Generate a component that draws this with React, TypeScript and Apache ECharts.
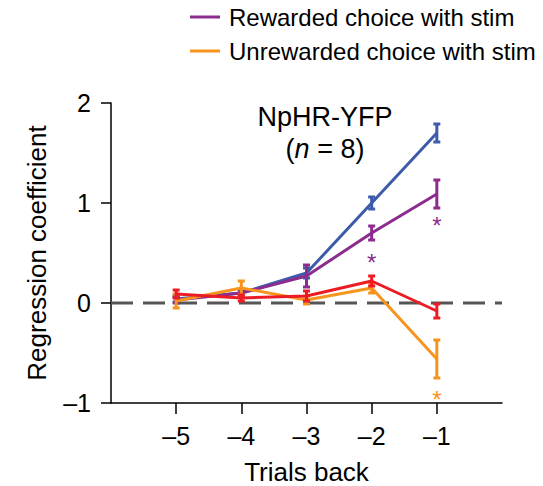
import React, { useEffect, useRef } from "react";
import * as echarts from "echarts";

// Trials back (x) and mean regression coefficients with their s.e.m.
const trialsBack = [-5, -4, -3, -2, -1];

const rewardedNoStim = [0.04, 0.1, 0.3, 1.0, 1.7];
const rewardedNoStimErr = [0.03, 0.03, 0.05, 0.06, 0.09];

const rewardedStim = [0.03, 0.1, 0.27, 0.7, 1.09];
const rewardedStimErr = [0.03, 0.03, 0.11, 0.07, 0.14];

const unrewardedStim = [0.02, 0.15, 0.03, 0.15, -0.56];
const unrewardedStimErr = [0.07, 0.07, 0.04, 0.05, 0.19];

const unrewardedNoStim = [0.09, 0.05, 0.07, 0.22, -0.08];
const unrewardedNoStimErr = [0.04, 0.03, 0.05, 0.05, 0.07];

// Significance markers: [trial, y position]
const rewardedStars = [
  [-2, 0.47],
  [-1, 0.84],
];
const unrewardedStars = [[-1, -0.9]];

const xTicks = [-5, -4, -3, -2, -1];
const yTicks = [-1, 0, 1, 2];

const BLUE = "#3d5ba9";
const PURPLE = "#8b2c8e";
const ORANGE = "#f7941d";
const RED = "#ec1c24";
const FONT = "'Liberation Sans', Arial, Helvetica, sans-serif";

const minus = (v: number) => String(v).replace("-", "\u2013");

function meanData(ys: number[]) {
  return trialsBack.map((x, i) => [x, ys[i]]);
}
function errData(ys: number[], es: number[]) {
  return trialsBack.map((x, i) => [x, ys[i] - es[i], ys[i] + es[i]]);
}

function errorSeries(name: string, color: string, ys: number[], es: number[], z: number) {
  return {
    type: "custom",
    name,
    z,
    silent: true,
    data: errData(ys, es),
    renderItem: (_params: any, api: any) => {
      const x = api.value(0);
      const lo = api.coord([x, api.value(1)]);
      const hi = api.coord([x, api.value(2)]);
      const cap = 3.5;
      const style = { stroke: color, lineWidth: 3 };
      return {
        type: "group",
        children: [
          { type: "line", shape: { x1: lo[0], y1: lo[1], x2: hi[0], y2: hi[1] }, style },
          { type: "line", shape: { x1: lo[0] - cap, y1: lo[1], x2: lo[0] + cap, y2: lo[1] }, style },
          { type: "line", shape: { x1: hi[0] - cap, y1: hi[1], x2: hi[0] + cap, y2: hi[1] }, style },
        ],
      };
    },
  };
}

function lineSeries(name: string, color: string, ys: number[], z: number) {
  return {
    type: "line",
    name,
    z,
    data: meanData(ys),
    symbol: "none",
    lineStyle: { color, width: 3 },
    itemStyle: { color },
  };
}

function starSeries(color: string, pts: number[][]) {
  return {
    type: "custom",
    z: 10,
    silent: true,
    data: pts,
    renderItem: (_params: any, api: any) => {
      const p = api.coord([api.value(0), api.value(1)]);
      return {
        type: "text",
        x: p[0],
        y: p[1] + 6,
        style: {
          text: "*",
          fill: color,
          font: `24px ${FONT}`,
          align: "center",
          verticalAlign: "middle",
        },
      };
    },
  };
}

export default function App() {
  const ref = useRef<HTMLDivElement>(null);

  useEffect(() => {
    if (!ref.current) return;
    const chart = echarts.init(ref.current, null, { renderer: "svg" });
    const base = { color: "#000", fontFamily: FONT, fontWeight: "normal" as const };
    const nameTxt = { ...base, fontSize: 26 };
    const titleTxt = { ...base, fontSize: 27 };
    const tickTxt = { ...base, fontSize: 25 };
    chart.setOption({
      animation: false,
      backgroundColor: "#ffffff",
      textStyle: { fontFamily: FONT },
      title: {
        left: 320,
        top: 96,
        textAlign: "center",
        text: "{a|NpHR-YFP}\n{b|(}{i|n}{b| = 8)}",
        textStyle: {
          fontWeight: "normal",
          rich: {
            a: { ...titleTxt, lineHeight: 32 },
            b: { ...titleTxt, lineHeight: 32 },
            i: { ...titleTxt, fontStyle: "italic", lineHeight: 32 },
          },
        },
      },
      legend: {
        orient: "vertical",
        left: 185,
        top: 0,
        itemWidth: 30,
        itemHeight: 3,
        itemGap: 10,
        icon: "rect",
        data: ["Rewarded choice with stim", "Unrewarded choice with stim"],
        textStyle: { ...base, fontSize: 24, padding: [0, 0, 0, 4] },
      },
      grid: { left: 111, right: 41, top: 103, bottom: 83, outerBoundsMode: "none" },
      xAxis: {
        type: "value",
        min: -6,
        max: 0,
        interval: 1,
        name: "Trials back",
        nameLocation: "middle",
        nameGap: 58,
        nameTextStyle: { ...nameTxt, lineHeight: 22 },
        axisLine: { show: true, onZero: false, lineStyle: { color: "#000", width: 1.5 } },
        axisTick: { show: true, length: 11, customValues: xTicks, lineStyle: { color: "#000", width: 1.5 } },
        axisLabel: {
          ...tickTxt,
          customValues: xTicks,
          margin: 20,
          formatter: (v: number) => minus(v),
        },
        splitLine: { show: false },
      },
      yAxis: {
        type: "value",
        min: -1,
        max: 2,
        interval: 1,
        name: "Regression coefficient",
        nameLocation: "middle",
        nameGap: 61,
        nameTextStyle: nameTxt,
        axisLine: { show: true, onZero: false, lineStyle: { color: "#000", width: 1.5 } },
        axisTick: { show: true, length: 10, customValues: yTicks, lineStyle: { color: "#000", width: 1.5 } },
        axisLabel: {
          ...tickTxt,
          customValues: yTicks,
          margin: 20,
          formatter: (v: number) => minus(v),
        },
        splitLine: { show: false },
      },
      series: [
        {
          type: "line",
          name: "zero",
          z: 1,
          silent: true,
          symbol: "none",
          data: [
            [-6, 0],
            [0, 0],
          ],
          lineStyle: { color: "#555", width: 3, type: [22, 10] },
        },
        lineSeries("Rewarded choice", BLUE, rewardedNoStim, 2),
        errorSeries("Rewarded choice", BLUE, rewardedNoStim, rewardedNoStimErr, 2),
        lineSeries("Rewarded choice with stim", PURPLE, rewardedStim, 3),
        errorSeries("Rewarded choice with stim", PURPLE, rewardedStim, rewardedStimErr, 3),
        lineSeries("Unrewarded choice with stim", ORANGE, unrewardedStim, 4),
        errorSeries("Unrewarded choice with stim", ORANGE, unrewardedStim, unrewardedStimErr, 4),
        lineSeries("Unrewarded choice", RED, unrewardedNoStim, 5),
        errorSeries("Unrewarded choice", RED, unrewardedNoStim, unrewardedNoStimErr, 5),
        starSeries(PURPLE, rewardedStars),
        starSeries(ORANGE, unrewardedStars),
      ],
    });
    return () => chart.dispose();
  }, []);

  return (
    <div
      ref={ref}
      style={{ position: "absolute", left: 0, top: 0, width: 543, height: 486 }}
    />
  );
}
